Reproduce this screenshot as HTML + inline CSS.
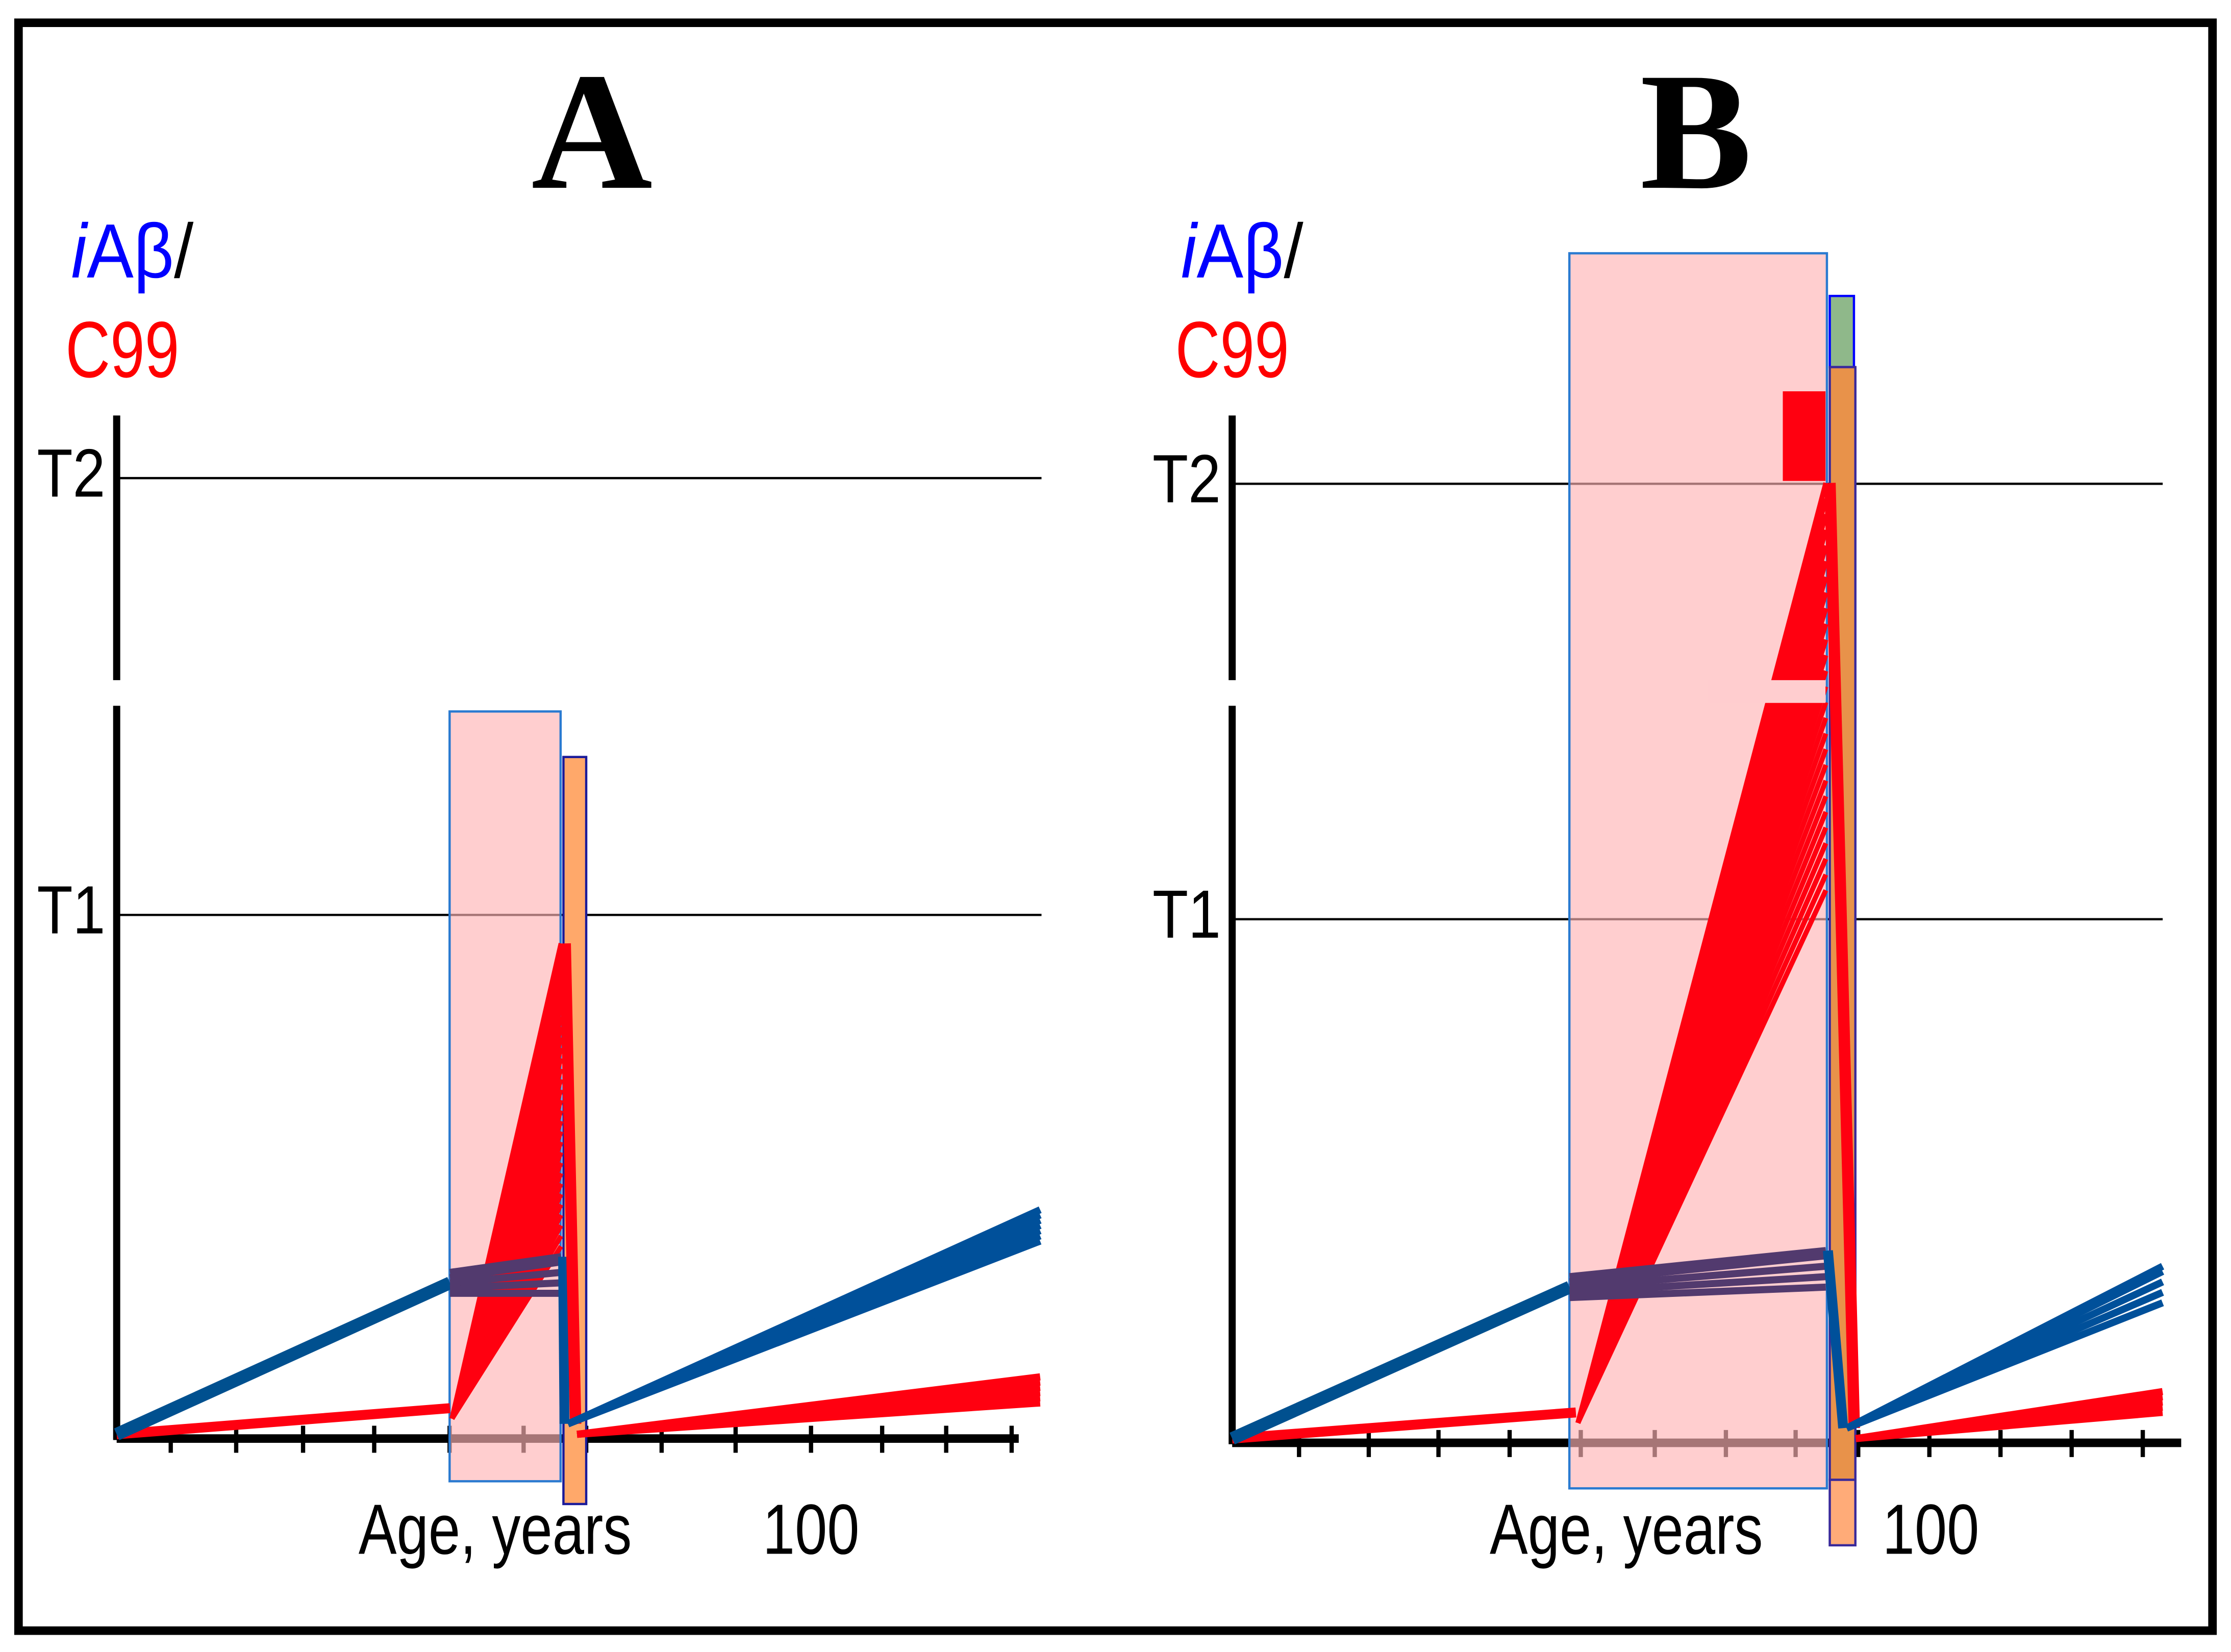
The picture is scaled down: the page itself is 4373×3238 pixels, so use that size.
<!DOCTYPE html>
<html><head><meta charset="utf-8"><style>
html,body{margin:0;padding:0;background:#fff}
svg{display:block}
</style></head><body>
<svg id="fig" width="4373" height="3238" viewBox="0 0 1568 1161" preserveAspectRatio="none" xmlns="http://www.w3.org/2000/svg" font-family="Liberation Sans, sans-serif">
<rect x="13" y="16" width="1542" height="1130" fill="#fff" stroke="#000" stroke-width="6"/>
<g id="pa"></g>
<g id="pb"></g>
</svg>
<script>
// ---------- DATA ----------
// Panel A
const aBlueEarly = [[0,0],[48,0.29]];
const aPurpleStart = [0.27,0.28,0.29,0.30,0.31];
const aPurpleEnd = [0.27,0.29,0.31,0.33,0.34];
const aBlueDrop = [64.5,0.02];
const aBlueLateEnd = [0.37,0.38,0.39,0.40,0.41,0.42,0.43];
const aRedEarly = [[0,0],[48,0.05]];
const aRedPeaks = [0.94,0.92,0.90,0.88,0.86,0.84,0.82,0.80,0.78,0.76,0.74,0.72,0.70,0.68,0.66,0.64,0.62,0.60,0.58,0.56,0.54,0.52,0.50,0.48,0.46,0.44,0.42,0.40,0.38,0.36];
const aRedLateEnd = [0.06,0.07,0.08,0.09,0.10,0.11];
// Panel B
const bBlueEarly = [[0,0],[48.6,0.29]];
const bPurpleStart = [0.27,0.28,0.29,0.30,0.31];
const bPurpleEnd = [0.29,0.31,0.33,0.35,0.36];
const bBlueLateEnd = [0.26,0.28,0.30,0.32,0.33];
const bRedEarly = [[0,0],[49.5,0.05]];
const bRedPeaks = [1.83,1.80,1.77,1.74,1.71,1.68,1.65,1.62,1.59,1.56,1.53,1.50,1.47,1.44,1.41,1.38,1.35,1.32,1.29,1.26,1.23,1.20,1.17,1.14,1.11,1.08,1.05];
const bRedLateEnd = [0.05,0.06,0.07,0.08,0.09];

const NS="http://www.w3.org/2000/svg";
function mk(parent,tag,attrs,name,txt){
  const e=document.createElementNS(NS,tag);
  for(const k in attrs) e.setAttribute(k,attrs[k]);
  
  
  if(txt!==undefined) e.textContent=txt;
  parent.appendChild(e); return e;
}
function panel(g,cfg){
  const X=a=>cfg.x0+a*4.88, Y=v=>cfg.yb-v*367;
  mk(g,'text',{x:cfg.tx,y:132,style:'font-family:"Liberation Serif",serif;font-weight:bold;font-size:118px','text-anchor':'middle'},'panel-title',cfg.title);
  const t1=mk(g,'text',{x:cfg.lx,y:195,'font-size':54,fill:'#0000ff',textLength:cfg.lw,lengthAdjust:'spacingAndGlyphs'},'y-axis-title-iabeta');
  const ti=document.createElementNS(NS,'tspan');ti.setAttribute('font-style','italic');ti.textContent='i';t1.appendChild(ti);
  t1.appendChild(document.createTextNode('Aβ'));
  const ts=document.createElementNS(NS,'tspan');ts.setAttribute('fill','#000');ts.textContent='/';t1.appendChild(ts);
  mk(g,'text',{x:cfg.lx-4,y:265,'font-size':56,fill:'#ff0000',textLength:80,lengthAdjust:'spacingAndGlyphs'},'y-axis-title-c99','C99');
  mk(g,'text',{x:cfg.x0-8,y:cfg.t2+13,'font-size':48,'text-anchor':'end',textLength:48,lengthAdjust:'spacingAndGlyphs'},'threshold-label-t2','T2');
  mk(g,'text',{x:cfg.x0-8,y:cfg.t1+13,'font-size':48,'text-anchor':'end',textLength:48,lengthAdjust:'spacingAndGlyphs'},'threshold-label-t1','T1');
  mk(g,'text',{x:cfg.agex,y:1092,'font-size':50,'text-anchor':'middle',textLength:192,lengthAdjust:'spacingAndGlyphs'},'x-axis-title','Age, years');
  mk(g,'text',{x:cfg.hx,y:1092,'font-size':50,'text-anchor':'middle',textLength:68,lengthAdjust:'spacingAndGlyphs'},'x-tick-label-100','100');
  mk(g,'line',{x1:cfg.x0,y1:292,x2:cfg.x0,y2:478,stroke:'#000','stroke-width':5},'y-axis-upper');
  mk(g,'line',{x1:cfg.x0,y1:496,x2:cfg.x0,y2:cfg.yb+4,stroke:'#000','stroke-width':5},'y-axis-lower');
  mk(g,'line',{x1:cfg.x0,y1:cfg.t2,x2:cfg.xe,y2:cfg.t2,stroke:'#000','stroke-width':1.6},'threshold-line-t2');
  mk(g,'line',{x1:cfg.x0,y1:cfg.t1,x2:cfg.xe,y2:cfg.t1,stroke:'#000','stroke-width':1.6},'threshold-line-t1');
  mk(g,'line',{x1:cfg.x0,y1:cfg.yb+3,x2:cfg.axe,y2:cfg.yb+3,stroke:'#000','stroke-width':6},'x-axis');
  cfg.ticks.forEach(t=>mk(g,'line',{x1:t,y1:cfg.yb-6,x2:t,y2:cfg.yb+13,stroke:'#000','stroke-width':3},'x-tick'));
  cfg.boxes.forEach(b=>mk(g,'rect',{x:b[0],y:b[1],width:b[2]-b[0],height:b[3]-b[1],fill:b[4],'fill-opacity':b[5],stroke:b[6],'stroke-width':1.6},b[7]));
  const line=(pts,col,w,name)=>mk(g,'polyline',{points:pts.map(p=>X(p[0])+','+Y(p[1])).join(' '),fill:'none',stroke:col,'stroke-width':w,'stroke-linejoin':'round'},name);
  line(cfg.redEarly,'#ff0010',7,'c99-early-line');
  cfg.redPeaks.forEach(p=>line([[cfg.redEarly[1][0]+0.3,cfg.redEarly[1][1]-0.02],[cfg.fanEnd,p]],'#ff0010',3.5,'c99-rise-line'));
  if(cfg.gap) mk(g,'rect',{x:cfg.gap[0],y:cfg.gap[1],width:cfg.gap[2],height:cfg.gap[3],fill:'#ffcdcf'},'axis-break-gap');
  if(cfg.block) mk(g,'rect',{x:cfg.block[0],y:cfg.block[1],width:cfg.block[2],height:cfg.block[3],fill:'#ff0010'},'c99-saturation-block');
  line(cfg.blueEarly,'#00508f',9,'iabeta-early-line');
  cfg.purpleEnd.forEach((e,i)=>line([[cfg.blueEarly[1][0],cfg.purpleStart[i]],[cfg.fanEnd,e]],'#523a6e',5,'iabeta-plateau-line'));
  line([[cfg.fanEnd+0.3,Math.max(...cfg.purpleEnd)],[cfg.drop,0.02]],'#00509a',7,'iabeta-drop-line');
  line([[cfg.fanEnd+0.6,cfg.redPeaks[0]],[cfg.drop+1.6,0.02]],'#ff0010',8,'c99-drop-line');
  cfg.blueLate.forEach(e=>line([[cfg.drop+0.5,0.02],[cfg.endAge,e]],'#00509a',5,'iabeta-late-line'));
  cfg.redLate.forEach(e=>line([[cfg.drop+1.8,0.0],[cfg.endAge,e]],'#ff0010',5,'c99-late-line'));
}
panel(document.getElementById('pa'),{
  title:'A',tx:416,lx:50,lw:86,x0:82,yb:1008,t2:336,t1:643,xe:732,axe:716,agex:348,hx:570,
  ticks:[120,166,213,263,316,368,412,465,517,570,620,665,711],
  boxes:[[316,500,394,1041,'#ffb3b6',0.65,'#2a7ad0','window-box-a'],[396,532,412,1057,'#ffa86a',1,'#1a1a9a','treatment-box-a']],
  redEarly:aRedEarly,redPeaks:aRedPeaks,fanEnd:64,blueEarly:aBlueEarly,purpleStart:aPurpleStart,purpleEnd:aPurpleEnd,
  drop:aBlueDrop[0],blueLate:aBlueLateEnd,redLate:aRedLateEnd,endAge:133
});
panel(document.getElementById('pb'),{
  title:'B',tx:1192,lx:830,lw:86,x0:866,yb:1011,t2:340,t1:646,xe:1520,axe:1533,agex:1143,hx:1357,
  ticks:[913,962,1011,1061,1111,1163,1213,1262,1306,1356,1406,1456,1506],
  boxes:[[1103,178,1284,1046,'#ffb3b6',0.65,'#2a7ad0','window-box-b'],[1286,208,1303,258,'#8fb88a',1,'#0000ff','green-box-b'],[1286,258,1304,1040,'#e8924a',1,'#3a2a9a','treatment-box-b'],[1286,1040,1304,1086,'#ffab78',1,'#3a2a9a','treatment-box-b-lower']],
  redEarly:bRedEarly,redPeaks:bRedPeaks,fanEnd:85.5,blueEarly:bBlueEarly,purpleStart:bPurpleStart,purpleEnd:bPurpleEnd,
  drop:88,blueLate:bBlueLateEnd,redLate:bRedLateEnd,endAge:134,
  gap:[1200,478,83,16],block:[1253,275,30,63]
});
</script>
</body></html>
